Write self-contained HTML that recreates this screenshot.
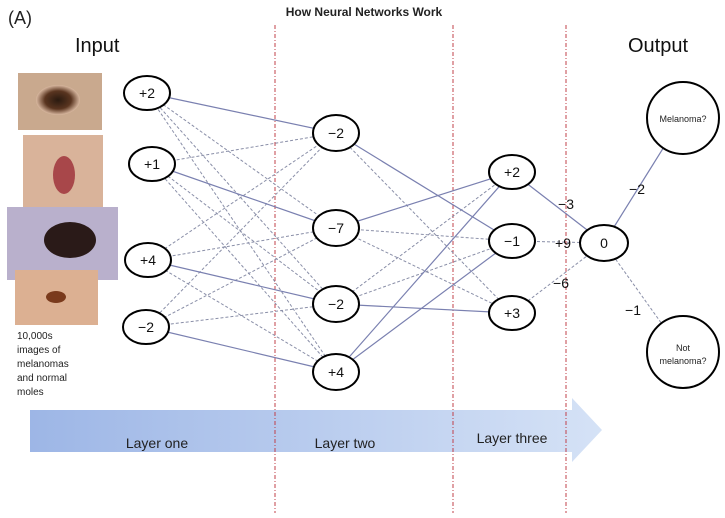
<!DOCTYPE html>
<html><head><meta charset="utf-8"><style>
body{margin:0;background:#fff;width:725px;height:513px;overflow:hidden;font-family:"Liberation Sans",sans-serif}
</style></head><body>
<svg width="725" height="513" viewBox="0 0 725 513" xmlns="http://www.w3.org/2000/svg" font-family="Liberation Sans, sans-serif">
<defs>
<linearGradient id="ag" x1="0" x2="1" y1="0" y2="0">
<stop offset="0" stop-color="#9db6e6"/><stop offset="1" stop-color="#d5e2f6"/></linearGradient>
<radialGradient id="m1"><stop offset="0" stop-color="#2a1a10"/><stop offset="0.6" stop-color="#5a3520"/><stop offset="1" stop-color="#d9b8a0"/></radialGradient>
</defs>
<text x="364" y="16" font-size="12" font-weight="bold" text-anchor="middle" fill="#222">How Neural Networks Work</text>
<text x="8" y="24" font-size="18" fill="#222">(A)</text>
<text x="75" y="52" font-size="20" fill="#111">Input</text>
<text x="628" y="52" font-size="20" fill="#111">Output</text>
<!-- arrow -->
<polygon points="30,410 572,410 572,398 602,430 572,462 572,452 30,452" fill="url(#ag)"/>
<text x="157" y="448" font-size="14" text-anchor="middle" fill="#222">Layer one</text>
<text x="345" y="448" font-size="14" text-anchor="middle" fill="#222">Layer two</text>
<text x="512" y="443" font-size="14" text-anchor="middle" fill="#222">Layer three</text>
<!-- red dashed -->
<g stroke="#c0404a" stroke-width="1" stroke-dasharray="4,2,1,2">
<line x1="275" y1="25" x2="275" y2="513"/><line x1="453" y1="25" x2="453" y2="513"/><line x1="566" y1="25" x2="566" y2="513"/></g>
<!-- images -->
<rect x="18" y="73" width="84" height="57" fill="#c9a98e"/>
<ellipse cx="58" cy="100" rx="22" ry="15" fill="url(#m1)"/>
<rect x="23" y="135" width="80" height="72" fill="#d9b39a"/>
<ellipse cx="64" cy="175" rx="11" ry="19" fill="#a8474a"/>
<rect x="7" y="207" width="111" height="73" fill="#b9b0cc"/>
<ellipse cx="70" cy="240" rx="26" ry="18" fill="#2a1a18"/>
<rect x="15" y="270" width="83" height="55" fill="#dcb092"/>
<ellipse cx="56" cy="297" rx="10" ry="6" fill="#7a3a1c"/>
<g font-size="10" fill="#222"><text x="17" y="339">10,000s</text><text x="17" y="353">images of</text><text x="17" y="367">melanomas</text><text x="17" y="381">and normal</text><text x="17" y="395">moles</text></g>
<!-- dashed connections -->
<g stroke="#8a8fa8" stroke-width="1" stroke-dasharray="3,2" fill="none">
<line x1="147" y1="93" x2="336" y2="228"/><line x1="147" y1="93" x2="336" y2="304"/><line x1="147" y1="93" x2="336" y2="372"/>
<line x1="152" y1="164" x2="336" y2="133"/><line x1="152" y1="164" x2="336" y2="304"/><line x1="152" y1="164" x2="336" y2="372"/>
<line x1="148" y1="260" x2="336" y2="133"/><line x1="148" y1="260" x2="336" y2="228"/><line x1="148" y1="260" x2="336" y2="372"/>
<line x1="146" y1="327" x2="336" y2="133"/><line x1="146" y1="327" x2="336" y2="228"/><line x1="146" y1="327" x2="336" y2="304"/>
<line x1="336" y1="133" x2="512" y2="313"/><line x1="336" y1="228" x2="512" y2="241"/><line x1="336" y1="304" x2="512" y2="241"/><line x1="336" y1="304" x2="512" y2="172"/><line x1="336" y1="228" x2="512" y2="313"/>
<line x1="512" y1="241" x2="604" y2="243"/><line x1="512" y1="313" x2="604" y2="243"/><line x1="604" y1="243" x2="682" y2="352"/>
</g>
<g stroke="#7a80b0" stroke-width="1.2" fill="none">
<line x1="147" y1="93" x2="336" y2="133"/><line x1="152" y1="164" x2="336" y2="228"/><line x1="148" y1="260" x2="336" y2="304"/><line x1="146" y1="327" x2="336" y2="372"/>
<line x1="336" y1="133" x2="512" y2="241"/><line x1="336" y1="228" x2="512" y2="172"/><line x1="336" y1="304" x2="512" y2="313"/><line x1="336" y1="372" x2="512" y2="172"/><line x1="336" y1="372" x2="512" y2="241"/>
<line x1="512" y1="172" x2="604" y2="243"/><line x1="604" y1="243" x2="682" y2="118"/>
</g>
<!-- nodes -->
<g fill="#fff" stroke="#000" stroke-width="2">
<ellipse cx="147" cy="93" rx="23" ry="17"/><ellipse cx="152" cy="164" rx="23" ry="17"/><ellipse cx="148" cy="260" rx="23" ry="17"/><ellipse cx="146" cy="327" rx="23" ry="17"/>
<ellipse cx="336" cy="133" rx="23" ry="18"/><ellipse cx="336" cy="228" rx="23" ry="18"/><ellipse cx="336" cy="304" rx="23" ry="18"/><ellipse cx="336" cy="372" rx="23" ry="18"/>
<ellipse cx="512" cy="172" rx="23" ry="17"/><ellipse cx="512" cy="241" rx="23" ry="17"/><ellipse cx="512" cy="313" rx="23" ry="17"/>
<ellipse cx="604" cy="243" rx="24" ry="18"/>
<circle cx="683" cy="118" r="36"/><circle cx="683" cy="352" r="36"/>
</g>
<g font-size="14" text-anchor="middle" fill="#111">
<text x="147" y="98">+2</text><text x="152" y="169">+1</text><text x="148" y="265">+4</text><text x="146" y="332">−2</text>
<text x="336" y="138">−2</text><text x="336" y="233">−7</text><text x="336" y="309">−2</text><text x="336" y="377">+4</text>
<text x="512" y="177">+2</text><text x="512" y="246">−1</text><text x="512" y="318">+3</text>
<text x="604" y="248">0</text>
<text x="566" y="209">−3</text><text x="563" y="248">+9</text><text x="561" y="288">−6</text>
<text x="637" y="194">−2</text><text x="633" y="315">−1</text>
</g>
<text x="683" y="122" font-size="9" text-anchor="middle" fill="#222">Melanoma?</text>
<text x="683" y="351" font-size="9" text-anchor="middle" fill="#222">Not</text>
<text x="683" y="364" font-size="9" text-anchor="middle" fill="#222">melanoma?</text>
</svg>
</body></html>
